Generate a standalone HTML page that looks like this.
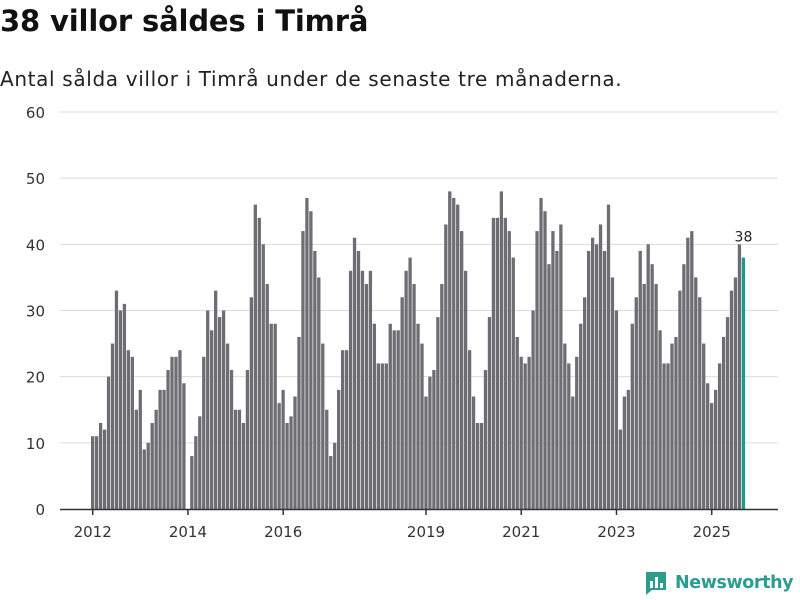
<!DOCTYPE html>
<html><head><meta charset="utf-8"><style>
body{margin:0;width:800px;height:600px;background:#fff;font-family:"DejaVu Sans",sans-serif;overflow:hidden}
h1{position:absolute;left:0;top:4px;margin:0;font-size:29px;font-weight:bold;color:#111;letter-spacing:-0.15px}
.sub{position:absolute;left:0;top:67px;font-size:20px;color:#222;letter-spacing:0.65px}
</style></head><body>
<h1>38 villor såldes i Timrå</h1>
<div class="sub">Antal sålda villor i Timrå under de senaste tre månaderna.</div>
<svg id="chart" width="800" height="600" style="position:absolute;left:0;top:0"></svg>
<script>
const years = [2012,2013,2014,2015,2016,2017,2018,2019,2020,2021,2022,2023,2024,2025];
const values = [
11,11,13,12,20,25,33,30,31,24,23,15,
18,9,10,13,15,18,18,21,23,23,24,19,
null,8,11,14,23,30,27,33,29,30,25,21,
15,15,13,21,32,46,44,40,34,28,28,16,
18,13,14,17,26,42,47,45,39,35,25,15,
8,10,18,24,24,36,41,39,36,34,36,28,
22,22,22,28,27,27,32,36,38,34,28,25,
17,20,21,29,34,43,48,47,46,42,36,24,
17,13,13,21,29,44,44,48,44,42,38,26,
23,22,23,30,42,47,45,37,42,39,43,25,
22,17,23,28,32,39,41,40,43,39,46,35,
30,12,17,18,28,32,39,34,40,37,34,27,
22,22,25,26,33,37,41,42,35,32,25,19,
16,18,22,26,29,33,35,40,38];
const yTicks = [0,10,20,30,40,50,60];
const xTickYears = [2012,2014,2016,2019,2021,2023,2025];

const NS='http://www.w3.org/2000/svg';
const svg=document.getElementById('chart');
const x0=92.7, step=3.968, yBase=509, yUnit=6.617;
const xs=i=>x0+i*step;
const ys=v=>yBase-v*yUnit;
function mk(t,a){const e=document.createElementNS(NS,t);for(const k in a)e.setAttribute(k,a[k]);svg.appendChild(e);return e;}

yTicks.forEach(v=>{
  if(v>0){const g=mk('line',{x1:60,x2:778,y1:ys(v),y2:ys(v),stroke:'#dcdcdc','stroke-width':1});
  
  }
  const t=mk('text',{x:45,y:ys(v)+6,'text-anchor':'end','font-size':15,fill:'#333','font-family':'DejaVu Sans, sans-serif'});
  t.textContent=v;
  
  
});
values.forEach((v,i)=>{
  if(v==null)return;
  const last=i===values.length-1;
  const r=mk('rect',{x:xs(i)-1.7,y:ys(v),width:3.3,height:v*yUnit,fill:last?'#1a9a8f':'#6e6d73'});
  
  
  if(last){const t=mk('text',{x:xs(i),y:ys(v)-16,'text-anchor':'middle','font-size':14,fill:'#222','font-family':'DejaVu Sans, sans-serif'});
  t.textContent=v;
  
  }
});
const ax=mk('line',{x1:60,x2:778,y1:509.5,y2:509.5,stroke:'#333','stroke-width':1.5});


xTickYears.forEach(yr=>{
  const x=xs((yr-years[0])*12);
  const l=mk('line',{x1:x,x2:x,y1:509,y2:515,stroke:'#333','stroke-width':1.5});
  
  
  const t=mk('text',{x:x,y:537,'text-anchor':'middle','font-size':15,fill:'#333','font-family':'DejaVu Sans, sans-serif'});
  t.textContent=yr;
  
  
});
</script>
<div style="position:absolute;left:644px;top:570px;display:flex;align-items:center">
<svg width="24" height="26" viewBox="0 0 24 26"><path d="M2 2h20v18H8l-6 5z" fill="#2a9d8f"/><rect x="6" y="11" width="3" height="7" fill="#fff"/><rect x="11" y="7" width="3" height="11" fill="#fff"/><rect x="16" y="13" width="3" height="5" fill="#fff"/></svg>
<span style="font-size:17.5px;font-weight:bold;color:#2a9d8f;margin-left:7px;font-family:'DejaVu Sans',sans-serif;letter-spacing:-0.4px">Newsworthy</span></div>
</body></html>
